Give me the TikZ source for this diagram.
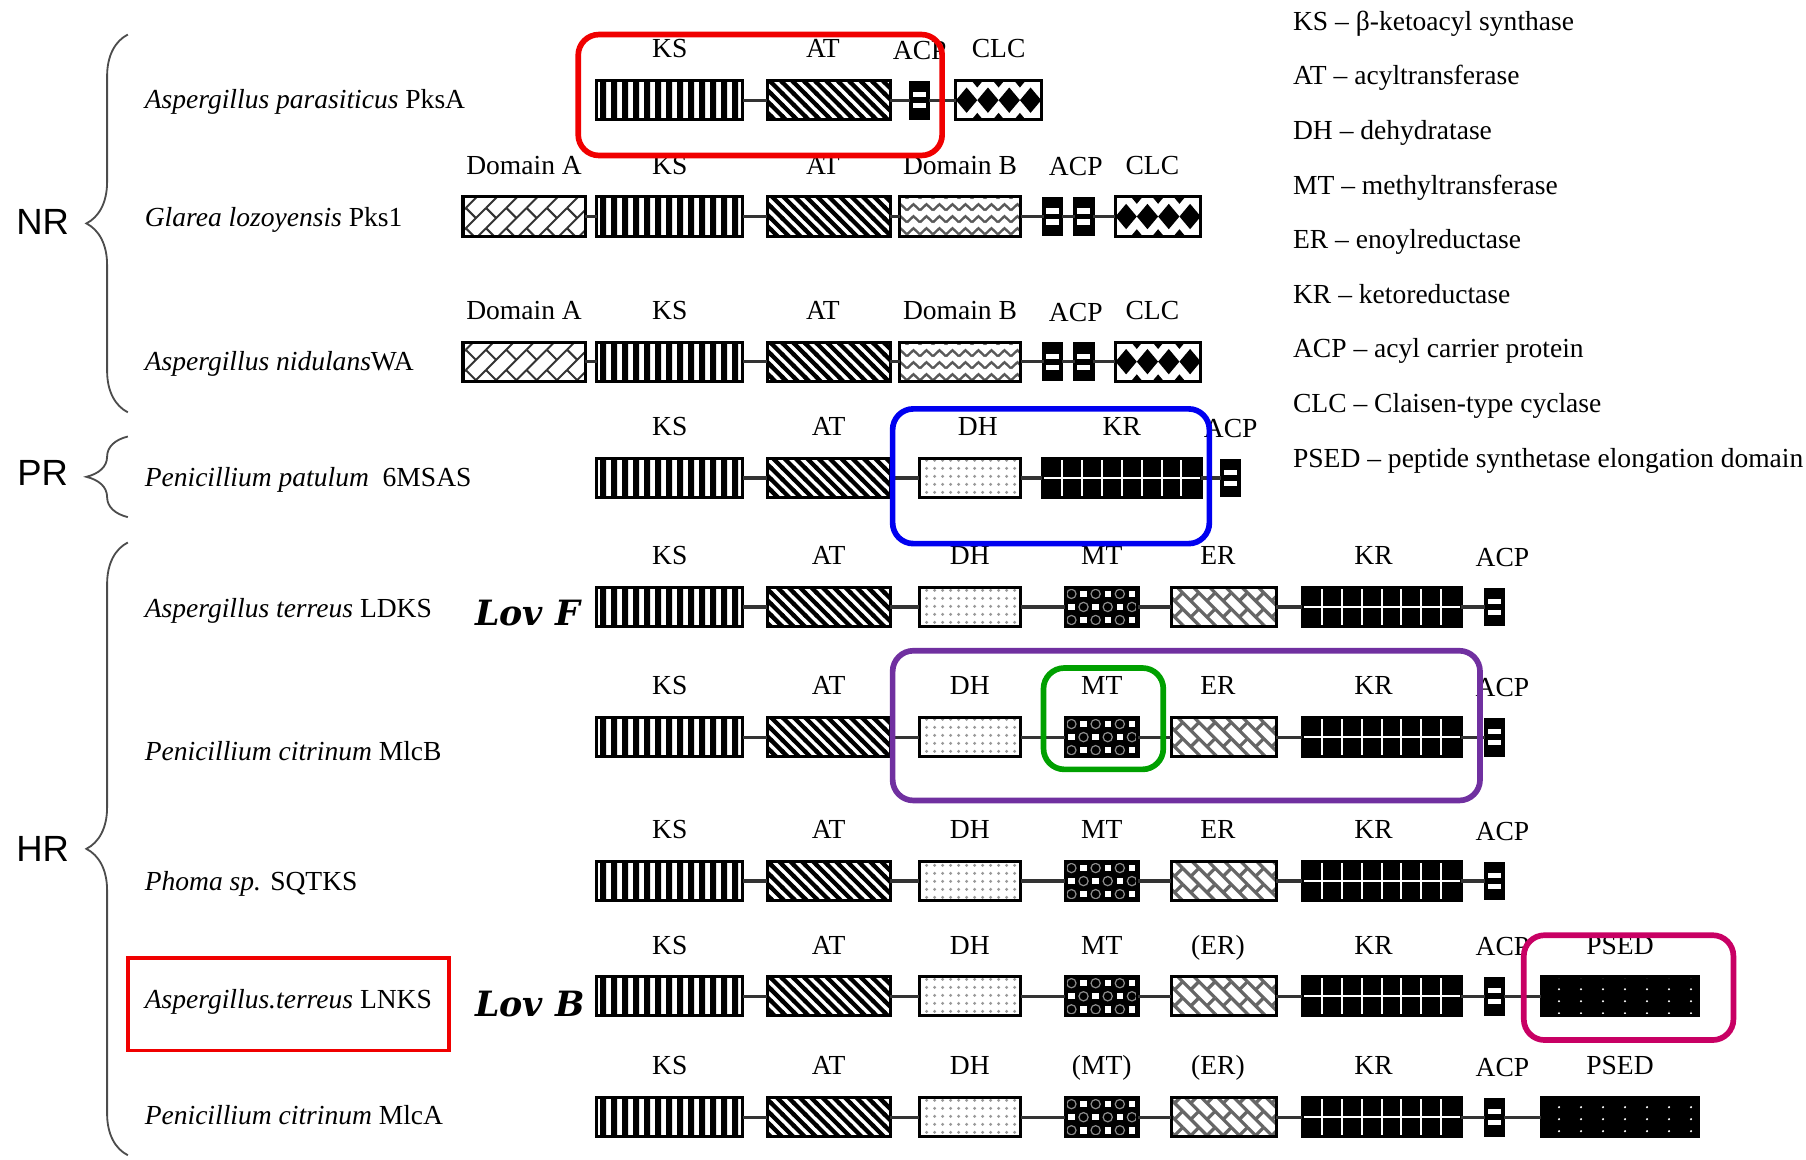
\documentclass[tikz,border=0pt]{standalone}
\usepackage{fontspec}
\setmainfont{Liberation Serif}
\newfontfamily\grpfont{Liberation Sans}
\newfontfamily\lovfont{DejaVu Serif}
\usetikzlibrary{calc,patterns,positioning,decorations.pathreplacing}

\definecolor{hlred}{RGB}{240,0,0}
\definecolor{hlblue}{RGB}{0,0,240}
\definecolor{hlpurple}{RGB}{112,48,160}
\definecolor{hlgreen}{RGB}{0,160,0}
\definecolor{hlmagenta}{RGB}{200,0,100}

% domain fillings
\pgfdeclarepatternformonly{ksbars}{\pgfqpoint{0pt}{0pt}}{\pgfqpoint{2.6pt}{20pt}}{\pgfqpoint{2.6pt}{20pt}}%
  {\pgfpathrectangle{\pgfqpoint{0pt}{0pt}}{\pgfqpoint{1.55pt}{20pt}}\pgfusepath{fill}}
\pgfdeclarepatternformonly{atlines}{\pgfqpoint{-1pt}{-1pt}}{\pgfqpoint{3.8pt}{3.8pt}}{\pgfqpoint{2.8pt}{2.8pt}}%
  {\pgfsetlinewidth{1.05pt}\pgfpathmoveto{\pgfqpoint{-0.2pt}{3pt}}\pgfpathlineto{\pgfqpoint{3pt}{-0.2pt}}\pgfusepath{stroke}}
\pgfdeclarepatternformonly{domalines}{\pgfqpoint{-0.5pt}{-0.5pt}}{\pgfqpoint{5.5pt}{5.5pt}}{\pgfqpoint{5pt}{5pt}}%
  {\pgfsetlinewidth{0.5pt}\pgfpathmoveto{\pgfqpoint{0pt}{0pt}}\pgfpathlineto{\pgfqpoint{5pt}{5pt}}%
   \pgfpathmoveto{\pgfqpoint{0pt}{5pt}}\pgfpathlineto{\pgfqpoint{2.5pt}{2.5pt}}\pgfusepath{stroke}}
\pgfdeclarepatternformonly{zigzag}{\pgfqpoint{0pt}{0pt}}{\pgfqpoint{3.2pt}{3pt}}{\pgfqpoint{3.2pt}{3pt}}%
  {\pgfsetlinewidth{0.6pt}\pgfpathmoveto{\pgfqpoint{0pt}{0.7pt}}\pgfpathlineto{\pgfqpoint{1.6pt}{2.3pt}}%
   \pgfpathlineto{\pgfqpoint{3.2pt}{0.7pt}}\pgfusepath{stroke}}
\pgfdeclarepatternformonly{dhdots}{\pgfqpoint{0pt}{0pt}}{\pgfqpoint{2pt}{2pt}}{\pgfqpoint{2pt}{2pt}}%
  {\pgfpathcircle{\pgfqpoint{1pt}{1pt}}{0.45pt}\pgfusepath{fill}}
\pgfdeclarepatternformonly{herring}{\pgfqpoint{-0.5pt}{-0.5pt}}{\pgfqpoint{4.5pt}{4.5pt}}{\pgfqpoint{4pt}{4pt}}%
  {\pgfsetlinewidth{0.8pt}\pgfpathmoveto{\pgfqpoint{0pt}{4pt}}\pgfpathlineto{\pgfqpoint{4pt}{0pt}}%
   \pgfpathmoveto{\pgfqpoint{2pt}{2pt}}\pgfpathlineto{\pgfqpoint{4pt}{4pt}}\pgfusepath{stroke}}
\pgfdeclarepatternformonly{psdots}{\pgfqpoint{0pt}{0pt}}{\pgfqpoint{5.4pt}{2.9pt}}{\pgfqpoint{5.4pt}{2.9pt}}%
  {\pgfpathcircle{\pgfqpoint{1.5pt}{1.45pt}}{0.3pt}\pgfusepath{fill}}

\begin{document}
\begin{tikzpicture}[
  x=0.01cm, y=-0.01cm,
  dom/.style={draw, line width=0.75pt, inner sep=0pt, outer sep=0pt,
    minimum height=0.34cm},
  ksdom/.style={dom, minimum width=1.27cm, pattern=ksbars},
  atdom/.style={dom, minimum width=1.07cm, pattern=atlines},
  doma/.style={dom, minimum width=1.06cm, pattern=domalines, pattern color=black!80},
  domb/.style={dom, minimum width=1.05cm, pattern=zigzag, pattern color=black!65},
  dhdom/.style={dom, minimum width=0.88cm, pattern=dhdots, pattern color=black!40},
  erdom/.style={dom, minimum width=0.91cm, pattern=herring, pattern color=black!60},
  mtdom/.style={dom, minimum width=0.63cm, fill=black, path picture={
    \foreach \i/\j in {1/0,3/0,5/0,0/1,2/1,4/1,1/2,3/2,5/2}
      \fill[white] ($(path picture bounding box.south west)+({(2*\i+1)*0.0525cm},{(2*\j+1)*0.0567cm})$)
        +(-0.028cm,-0.028cm) rectangle +(0.028cm,0.028cm);
    \foreach \i/\j in {0/0,2/0,4/0,1/1,3/1,5/1,0/2,2/2,4/2}
      \draw[black!45, line width=0.3pt, fill=black]
        ($(path picture bounding box.south west)+({(2*\i+1)*0.0525cm},{(2*\j+1)*0.0567cm})$) circle (0.04cm);
  }},
  krdom/.style={dom, minimum width=1.38cm, fill=black, path picture={
    \foreach \k in {1,...,7}
      \draw[white, line width=0.5pt] ($(path picture bounding box.south west)+({\k*0.1725cm},0)$) -- +(0,0.34cm);
    \draw[white, line width=0.5pt] (path picture bounding box.west) -- (path picture bounding box.east);
  }},
  acpdom/.style={dom, minimum width=0.16cm, minimum height=0.31cm, fill=black, path picture={
    \fill[white] ($(path picture bounding box.south west)+(0.025cm,0.085cm)$) rectangle +(0.11cm,0.045cm);
    \fill[white] ($(path picture bounding box.south west)+(0.025cm,0.18cm)$) rectangle +(0.11cm,0.045cm);
  }},
  clcdom/.style={dom, minimum width=0.74cm, fill=white, path picture={
    \foreach \k in {0,...,3}
      \fill[black] ($(path picture bounding box.west)+({(2*\k+1)*0.0925cm},0)$)
        +(-0.0925cm,0) -- +(0,0.11cm) -- +(0.0925cm,0) -- +(0,-0.11cm) -- cycle;
    \foreach \k in {1,2,3}
      \fill[black] ($(path picture bounding box.south west)+({\k*0.185cm},0)$)
        +(-0.05cm,0) -- +(0,0.06cm) -- +(0.05cm,0) -- cycle
        ($(path picture bounding box.north west)+({\k*0.185cm},0)$)
        +(-0.05cm,0) -- +(0,-0.06cm) -- +(0.05cm,0) -- cycle;
  }},
  pseddom/.style={dom, minimum width=1.37cm, fill=black, path picture={
    \fill[pattern=psdots, pattern color=white] (path picture bounding box.south west)
      rectangle (path picture bounding box.north east);
  }},
  lab/.style={font=\fontsize{6.8}{8}\selectfont, inner sep=0pt,
    text height=5pt, text depth=1.4pt},
  label distance=4pt,
  link/.style={line width=0.8pt, black!80},
  species/.style={anchor=west, inner sep=0pt, font=\fontsize{6.8}{8}\selectfont,
    text height=5pt, text depth=1.4pt},
  legend/.style={species},
  grp/.style={font=\grpfont\fontsize{9}{10}\selectfont},
  lov/.style={font=\lovfont\bfseries\itshape\fontsize{8.6}{10}\selectfont},
  grpbrace/.style={decorate, decoration={brace, amplitude=0.36cm},
    line width=0.45pt, black!70},
  hilite/.style={rounded corners=0.18cm, line width=1.4pt},
]
  \useasboundingbox (0,0) rectangle (1568,1007);

  % ── Groups and species ──────────────────────────────────────────────────
  \node[grp] (nr) at (37,193) {NR};
  \node[grp] (pr) at (37,411) {PR};
  \node[grp] (hr) at (37,737) {HR};
  \draw[grpbrace] (111,358) -- (111,30);
  \draw[grpbrace] (111,449) -- (111,379);
  \draw[grpbrace] (111,1003) -- (111,471);

  \node[species] (sp-pksa)  at (125,88)  {\textit{Aspergillus parasiticus} PksA};
  \node[species] (sp-pks)   at (125,190) {\textit{Glarea lozoyensis} Pks1};
  \node[species] (sp-wa)    at (125,315) {\textit{Aspergillus nidulans}WA};
  \node[species] (sp-msas)  at (125,416) {\textit{Penicillium patulum}\ \ 6MSAS};
  \node[species] (sp-ldks)  at (125,530) {\textit{Aspergillus terreus} LDKS};
  \node[species] (sp-mlcb)  at (125,654) {\textit{Penicillium citrinum} MlcB};
  \node[species] (sp-sqtks) at (125,767) {\textit{Phoma sp.} SQTKS};
  \node[species] (sp-lnks)  at (125,869) {\textit{Aspergillus.terreus} LNKS};
  \node[species] (sp-mlca)  at (125,970) {\textit{Penicillium citrinum} MlcA};

  \node[lov] (lovf) at (458,532) {Lov F};
  \node[lov] (lovb) at (460,872) {Lov B};

  % ── NR: PksA ────────────────────────────────────────────────────────────
  \node[ksdom,  label={[lab]above:KS}]  (pksa-ks)  at (581.5,87) {};
  \node[atdom,  label={[lab, xshift=-0.05cm]above:AT}]  (pksa-at)  at (719.5,87) {};
  \node[acpdom, label={[lab]above:ACP}] (pksa-acp) at (798.5,87) {};
  \node[clcdom, label={[lab]above:CLC}] (pksa-clc) at (867,87) {};
  \draw[link] (pksa-ks) -- (pksa-at) (pksa-at) -- (pksa-acp) (pksa-acp) -- (pksa-clc);

  % ── NR: Pks1 and WA ─────────────────────────────────────────────────────
  \foreach \r/\y in {pks/188, wa/314} {
    \node[doma,   label={[lab]above:Domain A}] (\r-doma) at (455,\y) {};
    \node[ksdom,  label={[lab]above:KS}]       (\r-ks)   at (581.5,\y) {};
    \node[atdom,  label={[lab, xshift=-0.05cm]above:AT}] (\r-at) at (719.5,\y) {};
    \node[domb,   label={[lab]above:Domain B}] (\r-domb) at (833.5,\y) {};
    \node[acpdom, label={[lab, xshift=0.2cm]above:ACP}] (\r-acpa) at (914,\y) {};
    \node[acpdom]                              (\r-acpb) at (941,\y) {};
    \node[clcdom, label={[lab, xshift=-0.05cm]above:CLC}] (\r-clc) at (1005.5,\y) {};
    \draw[link] (\r-doma) -- (\r-ks) (\r-ks) -- (\r-at) (\r-at) -- (\r-domb)
                (\r-domb) -- (\r-acpa) (\r-acpa) -- (\r-acpb) (\r-acpb) -- (\r-clc);
  }

  % ── PR: 6MSAS ───────────────────────────────────────────────────────────
  \node[ksdom,  label={[lab]above:KS}]  (msas-ks)  at (581.5,415) {};
  \node[atdom,  label={[lab]above:AT}]  (msas-at)  at (719.5,415) {};
  \node[dhdom,  label={[lab, xshift=0.07cm]above:DH}]  (msas-dh)  at (842,415) {};
  \node[krdom,  label={[lab]above:KR}]  (msas-kr)  at (974,415) {};
  \node[acpdom, label={[lab]above:ACP}] (msas-acp) at (1068.5,415) {};
  \draw[link] (msas-ks) -- (msas-at) (msas-at) -- (msas-dh) (msas-dh) -- (msas-kr)
              (msas-kr) -- (msas-acp);

  % ── HR rows ─────────────────────────────────────────────────────────────
  \foreach \r/\y/\mtl/\erl in {ldks/527/MT/ER, mlcb/640/MT/ER, sqtks/765/MT/ER,
                               lnks/865/MT/{(ER)}, mlca/970/{(MT)}/{(ER)}} {
    \node[ksdom,  label={[lab]above:KS}]   (\r-ks)  at (581.5,\y) {};
    \node[atdom,  label={[lab]above:AT}]   (\r-at)  at (719.5,\y) {};
    \node[dhdom,  label={[lab]above:DH}]   (\r-dh)  at (842,\y) {};
    \node[mtdom,  label={[lab]above:\mtl}] (\r-mt)  at (956.5,\y) {};
    \node[erdom,  label={[lab, xshift=-0.05cm]above:\erl}] (\r-er) at (1062.5,\y) {};
    \node[krdom,  label={[lab, xshift=-0.07cm]above:KR}]   (\r-kr) at (1199.5,\y) {};
    \node[acpdom, label={[lab, xshift=0.07cm]above:ACP}] (\r-acp) at (1297.5,\y) {};
    \draw[link] (\r-ks) -- (\r-at) (\r-at) -- (\r-dh) (\r-dh) -- (\r-mt)
                (\r-mt) -- (\r-er) (\r-er) -- (\r-kr) (\r-kr) -- (\r-acp);
  }
  \node[pseddom, label={[lab]above:PSED}] (lnks-psed) at (1406.5,865) {};
  \node[pseddom, label={[lab]above:PSED}] (mlca-psed) at (1406.5,970) {};
  \draw[link] (lnks-acp) -- (lnks-psed);
  \draw[link] (mlca-acp) -- (mlca-psed);

  % ── Legend ──────────────────────────────────────────────────────────────
  \foreach \txt [count=\i from 0] in {KS -- β-ketoacyl synthase, AT -- acyltransferase,
      DH -- dehydratase, MT -- methyltransferase, ER -- enoylreductase,
      KR -- ketoreductase, ACP -- acyl carrier protein, CLC -- Claisen-type cyclase,
      PSED -- peptide synthetase elongation domain}
    \node[legend] (leg\i) at (1122,{20+47.4*\i}) {\txt};

  % ── Highlights ──────────────────────────────────────────────────────────
  \draw[hilite, hlred]     (502,30)   rectangle (818,135);
  \draw[hilite, hlblue]    (775,355)  rectangle (1050,472);
  \draw[hilite, hlpurple]  (775,565)  rectangle (1285,695);
  \draw[hilite, hlgreen]   (906,580)  rectangle (1010,668);
  \draw[hilite, hlmagenta] (1323,812) rectangle (1505,903);
  \draw[hlred, line width=0.9pt] (111,832) rectangle (390,912);

\end{tikzpicture}
\end{document}
